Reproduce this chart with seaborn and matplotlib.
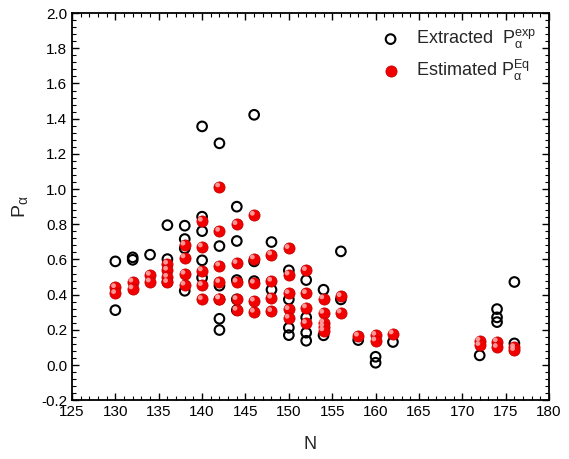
import matplotlib
matplotlib.use("Agg")
import matplotlib.pyplot as plt
import matplotlib.transforms as mtransforms
from matplotlib.ticker import MultipleLocator
import seaborn as sns
import pandas as pd

sns.set_style("ticks")
plt.rcParams['font.family'] = ['Liberation Sans', 'DejaVu Sans']
plt.rcParams['mathtext.fontset'] = 'custom'
plt.rcParams['mathtext.rm'] = 'Liberation Sans'
plt.rcParams['mathtext.it'] = 'Liberation Sans'
plt.rcParams['mathtext.default'] = 'regular'

# Extracted P_alpha^exp
N_exp = [130, 130,
         132, 132,
         134,
         136, 136, 136,
         138, 138, 138, 138,
         140, 140, 140, 140, 140,
         142, 142, 142, 142, 142,
         144, 144, 144, 144, 144,
         146, 146, 146,
         148, 148,
         150, 150, 150, 150,
         152, 152, 152, 152,
         154, 154,
         156, 156,
         158,
         160, 160,
         162,
         172,
         174, 174, 174,
         176, 176]
P_exp = [0.589, 0.312,
         0.612, 0.598,
         0.627,
         0.795, 0.602, 0.472,
         0.792, 0.716, 0.663, 0.422,
         1.356, 0.843, 0.761, 0.595, 0.496,
         1.260, 0.676, 0.451, 0.263, 0.199,
         0.900, 0.705, 0.483, 0.373, 0.312,
         1.422, 0.589, 0.477,
         0.699, 0.428,
         0.538, 0.373, 0.212, 0.170,
         0.483, 0.271, 0.184, 0.138,
         0.428, 0.169,
         0.646, 0.373,
         0.142,
         0.047, 0.013,
         0.131,
         0.055,
         0.318, 0.271, 0.244,
         0.472, 0.123]

# Estimated P_alpha^Eq
N_eq = [130, 130,
        132, 132,
        134, 134,
        136, 136, 136, 136,
        138, 138, 138, 138,
        140, 140, 140, 140, 140,
        142, 142, 142, 142, 142, 142,
        144, 144, 144, 144, 144,
        146, 146, 146, 146, 146,
        148, 148, 148, 148,
        150, 150, 150, 150, 150,
        152, 152, 152, 152,
        154, 154, 154, 154, 154,
        156, 156,
        158,
        160, 160,
        162,
        172, 172,
        174, 174,
        176, 176]
P_eq = [0.441, 0.407,
        0.473, 0.434,
        0.511, 0.473,
        0.574, 0.540, 0.500, 0.470,
        0.682, 0.610, 0.517, 0.455,
        0.818, 0.672, 0.536, 0.453, 0.373,
        1.013, 0.761, 0.564, 0.470, 0.377, 0.377,
        0.799, 0.578, 0.472, 0.373, 0.312,
        0.852, 0.604, 0.466, 0.364, 0.301,
        0.627, 0.477, 0.381, 0.305,
        0.663, 0.513, 0.407, 0.316, 0.267,
        0.538, 0.407, 0.326, 0.237,
        0.377, 0.295, 0.240, 0.218, 0.195,
        0.390, 0.297,
        0.165,
        0.170, 0.138,
        0.178,
        0.138, 0.112,
        0.133, 0.101,
        0.100, 0.083]

df_exp = pd.DataFrame({"N": N_exp, "P": P_exp})
df_eq = pd.DataFrame({"N": N_eq, "P": P_eq})

fig = plt.figure(figsize=(5.69, 4.59), dpi=100)
ax = fig.add_axes([0.1265, 0.128, 0.8385, 0.8435])

sns.scatterplot(data=df_exp, x="N", y="P", ax=ax, marker="o", s=48,
                facecolor="none", edgecolor="black", linewidth=1.5,
                label="Extracted  $P_{\\alpha}^{exp}$", zorder=3)
sns.scatterplot(data=df_eq, x="N", y="P", ax=ax, marker="o", s=64,
                color="#f20000", edgecolor="#c80000", linewidth=0.6,
                label="Estimated $P_{\\alpha}^{Eq}$", zorder=4)
# specular highlight on the red balls
off = mtransforms.ScaledTranslation(-1.3 / 72, 1.3 / 72, fig.dpi_scale_trans)
sns.scatterplot(data=df_eq, x="N", y="P", ax=ax, marker="o", s=12,
                color="#ffb0b0", edgecolor="none", linewidth=0, alpha=0.85,
                transform=ax.transData + off, zorder=5, legend=False)

ax.set_xlim(125, 180)
ax.set_ylim(-0.2, 2.0)
ax.xaxis.set_major_locator(MultipleLocator(5))
ax.xaxis.set_minor_locator(MultipleLocator(1))
ax.yaxis.set_major_locator(MultipleLocator(0.2))
ax.yaxis.set_minor_locator(MultipleLocator(0.04))
ax.yaxis.set_major_formatter(matplotlib.ticker.FormatStrFormatter('%.1f'))
ax.tick_params(which='both', direction='in', top=True, right=True, labelsize=11, colors='black')
ax.tick_params(which='major', length=5, width=1.0)
ax.tick_params(which='minor', length=3, width=0.8)
for sp in ax.spines.values():
    sp.set_linewidth(1.3)
    sp.set_color('black')
    sp.set_visible(True)

ax.set_xlabel("N", fontsize=13, labelpad=12)
ax.set_ylabel("$P_{\\alpha}$", fontsize=14, labelpad=8)

leg = ax.legend(loc="upper right", bbox_to_anchor=(0.995, 0.99), frameon=False,
                fontsize=13, handletextpad=0.9, borderaxespad=0.2,
                labelspacing=0.4, handlelength=1.0)

fig.savefig("out.png", dpi=100)
